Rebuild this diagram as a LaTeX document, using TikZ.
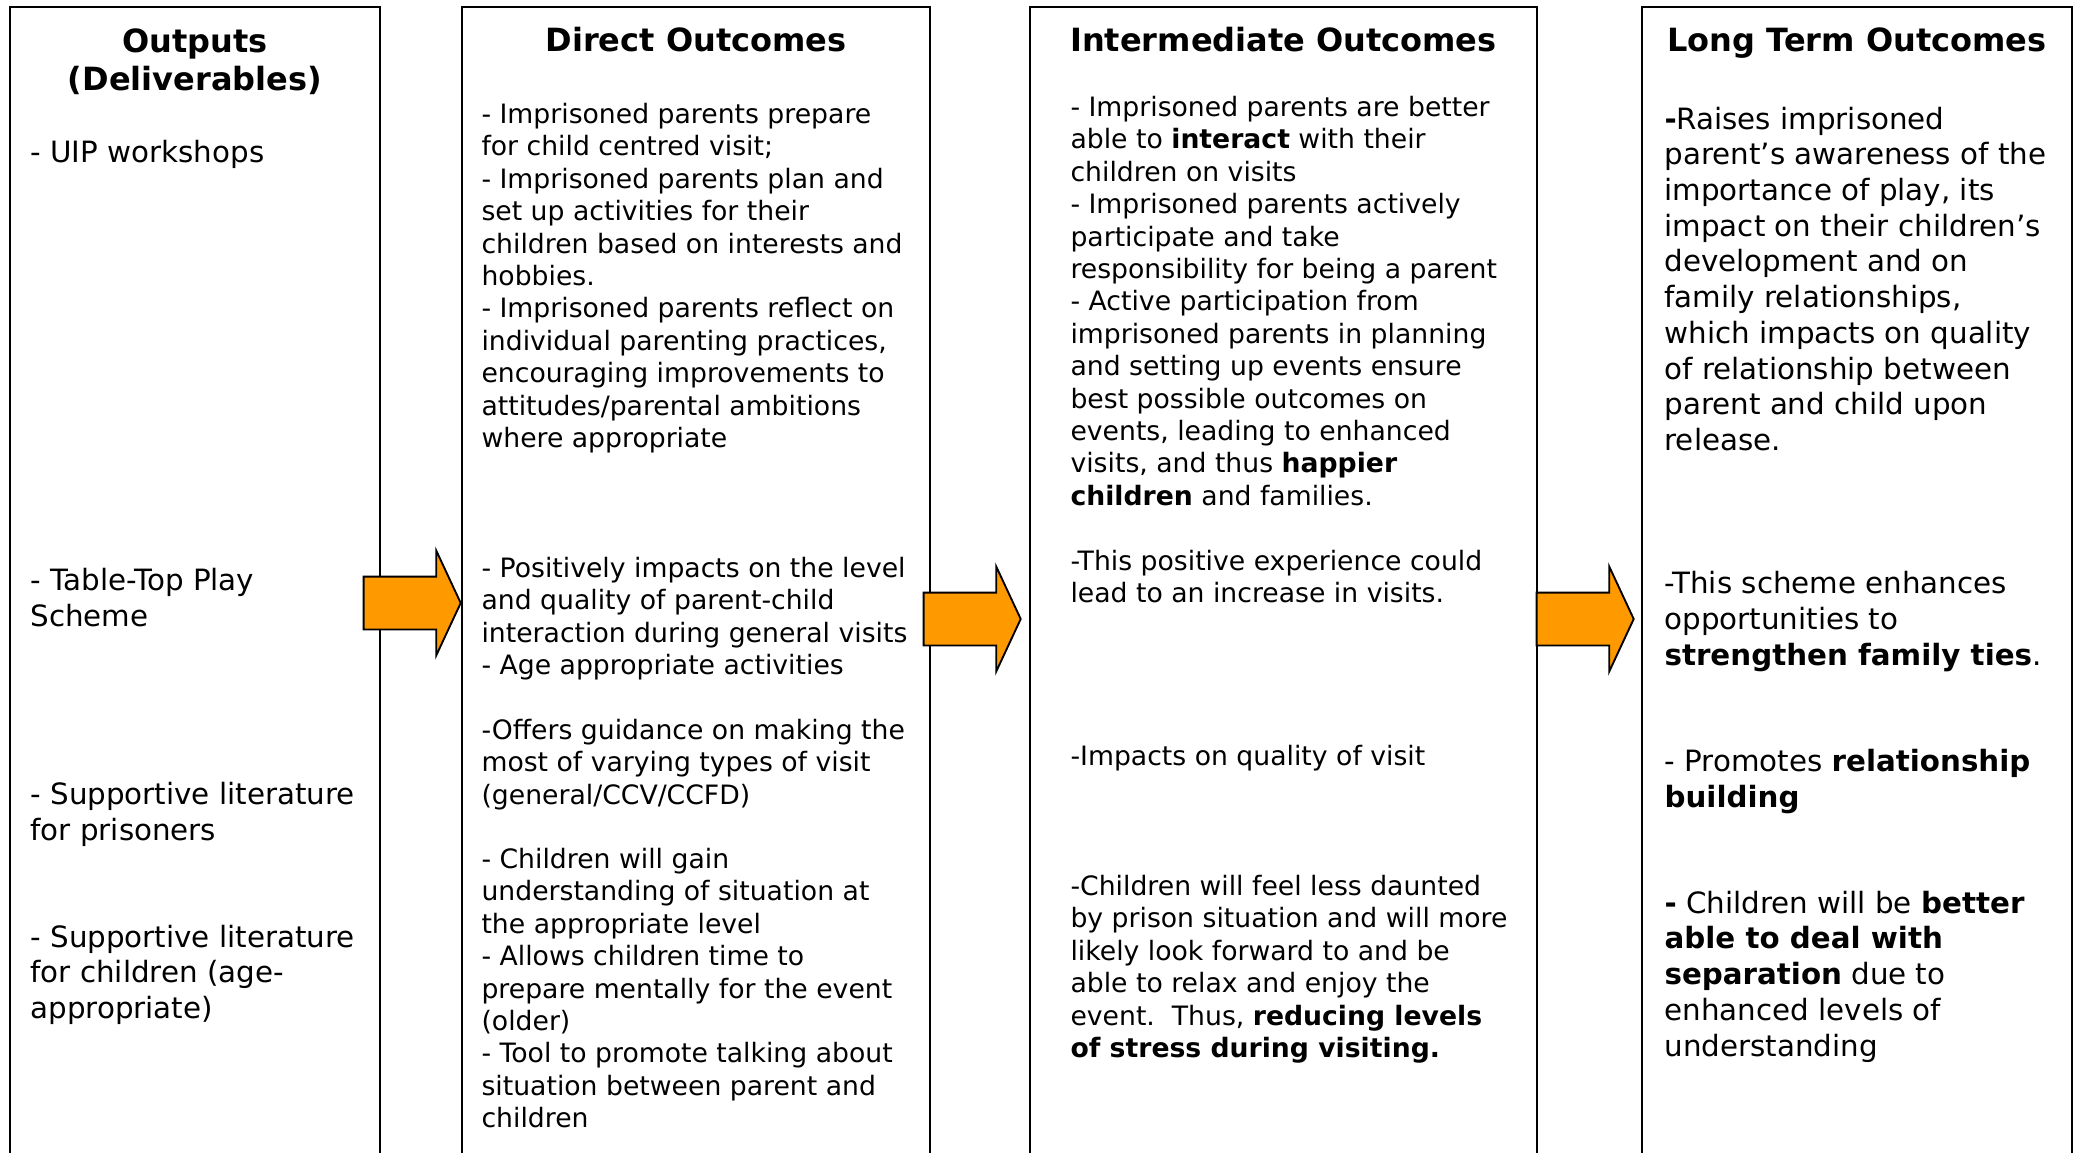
\documentclass[tikz,border=0pt]{standalone}
\usepackage{fontspec}
\setmainfont{DejaVu Sans}
\usetikzlibrary{shapes.arrows,fit}

\definecolor{arroworange}{HTML}{FF9900}

\tikzset{
  panel/.style={inner sep=0pt, outer sep=0pt},
  boxline/.style={line width=0.8pt},
  heading/.style={font=\bfseries\fontsize{12}{14.4}\selectfont, align=center, anchor=base, inner sep=0pt},
  bodytext/.style={font=\fontsize{10}{12.15}\selectfont, align=left, anchor=base west, inner sep=0pt},
  bigtext/.style={font=\fontsize{11}{13.4}\selectfont, align=left, anchor=base west, inner sep=0pt},
  blockarrow/.style={single arrow, draw, fill=arroworange, line width=0.7pt,
    inner xsep=0pt, inner ysep=9.56pt,
    minimum height=36.4pt, minimum width=38.6pt,
    single arrow head extend=9.75pt, single arrow tip angle=130}
}

\begin{document}
\begin{tikzpicture}[x=0.375pt,y=-0.375pt]
\useasboundingbox (0,0) rectangle (2076,1153);

% the four columns
\node[panel, fit={(10,7) (380,1153)}] (out) {};
\node[panel, fit={(462,7) (930,1153)}] (dir) {};
\node[panel, fit={(1030,7) (1537,1153)}] (mid) {};
\node[panel, fit={(1642,7) (2072,1153)}] (long) {};
\foreach \c in {out,dir,mid,long}
  \draw[boxline] (\c.south west) |- (\c.north east) -- (\c.south east);

% headings (base = last line)
\node[heading] (out-head) at (out.north |- 0,90.4) {Outputs\\(Deliverables)};
\node[heading] (dir-head) at (dir.north |- 0,52) {Direct Outcomes};
\node[heading] (mid-head) at (mid.north |- 0,52) {Intermediate Outcomes};
\node[heading] (long-head) at (long.north |- 0,52) {Long Term Outcomes};

% outputs
\node[bigtext] (out-a) at (30,162) {- UIP workshops};
\node[bigtext] (out-b) at (30,626) {- Table-Top Play\\Scheme};
\node[bigtext] (out-c) at (30,840) {- Supportive literature\\for prisoners};
\node[bigtext] (out-d) at (30,1018.5) {- Supportive literature\\for children (age-\\appropriate)};

% direct outcomes
\node[bodytext] (dir-a) at (481,447.5) {- Imprisoned parents prepare\\for child centred visit;\\- Imprisoned parents plan and\\set up activities for their\\children based on interests and\\hobbies.\\- Imprisoned parents reflect on\\individual parenting practices,\\encouraging improvements to\\attitudes/parental ambitions\\where appropriate};
\node[bodytext] (dir-b) at (481,674.7) {- Positively impacts on the level\\and quality of parent-child\\interaction during general visits\\- Age appropriate activities};
\node[bodytext] (dir-c) at (481,804.3) {-Offers guidance on making the\\most of varying types of visit\\(general/CCV/CCFD)};
\node[bodytext] (dir-d) at (481,1127.7) {- Children will gain\\understanding of situation at\\the appropriate level\\- Allows children time to\\prepare mentally for the event\\(older)\\- Tool to promote talking about\\situation between parent and\\children};

% intermediate outcomes
\node[bodytext] (mid-a) at (1070,505.3) {- Imprisoned parents are better\\able to \textbf{interact} with their\\children on visits\\- Imprisoned parents actively\\participate and take\\responsibility for being a parent\\- Active participation from\\imprisoned parents in planning\\and setting up events ensure\\best possible outcomes on\\events, leading to enhanced\\visits, and thus \textbf{happier}\\\textbf{children} and families.};
\node[bodytext] (mid-b) at (1070,602.9) {-This positive experience could\\lead to an increase in visits.};
\node[bodytext] (mid-c) at (1070,765.5) {-Impacts on quality of visit};
\node[bodytext] (mid-d) at (1070,1057.5) {-Children will feel less daunted\\by prison situation and will more\\likely look forward to and be\\able to relax and enjoy the\\event.\ \ Thus, \textbf{reducing levels}\\\textbf{of stress during visiting.}};

% long term outcomes
\node[bigtext] (long-a) at (1664,450.6) {\textbf{-}Raises imprisoned\\parent’s awareness of the\\importance of play, its\\impact on their children’s\\development and on\\family relationships,\\which impacts on quality\\of relationship between\\parent and child upon\\release.};
\node[bigtext] (long-b) at (1664,665) {-This scheme enhances\\opportunities to\\\textbf{strengthen family ties}.};
\node[bigtext] (long-c) at (1664,807) {- Promotes \textbf{relationship}\\\textbf{building}};
\node[bigtext] (long-d) at (1664,1056) {\textbf{-} Children will be \textbf{better}\\\textbf{able to deal with}\\\textbf{separation} due to\\enhanced levels of\\understanding};

% arrows between the columns
\node[blockarrow] (arr-1) at (406,603) {};
\node[blockarrow] (arr-2) at (966,619) {};
\node[blockarrow] (arr-3) at (1579,619) {};
\end{tikzpicture}
\end{document}
